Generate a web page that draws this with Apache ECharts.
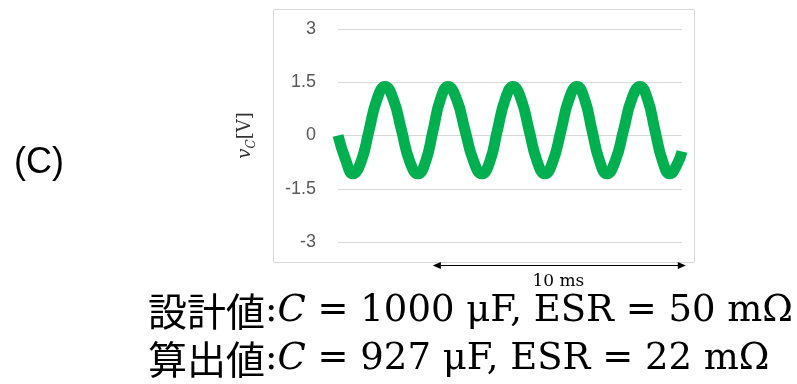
<!DOCTYPE html>
<html>
<head>
<meta charset="utf-8">
<script src="https://cdn.jsdelivr.net/npm/echarts@6/dist/echarts.min.js"></script>
<style>
  html, body { margin: 0; padding: 0; background: #fff; }
  #chart { width: 797px; height: 384px; }
</style>
</head>
<body>
<div id="chart"></div>
<script>
// 波形データ: 時間 [ms], v_C [V]
const timeMs = [
  0, 0.3, 0.59, 0.91, 1.22, 1.54, 1.86, 2.18, 2.51, 2.83,
  3.16, 3.46, 3.76, 4.05, 4.35, 4.69, 5.02, 5.36, 5.69, 6.0,
  6.3, 6.61, 6.92, 7.24, 7.55, 7.87, 8.18, 8.5, 8.82, 9.13,
  9.45, 9.75, 10.04, 10.34, 10.63, 10.96, 11.29, 11.61, 11.94, 12.24,
  12.53, 12.83, 13.12, 13.4, 13.6
];
const vC = [
  0, -0.68, -1.08, -0.74, 0.12, 1.02, 1.38, 1.03, 0.15, -0.72,
  -1.08, -0.74, 0.15, 1.02, 1.38, 1.02, 0.15, -0.72, -1.08, -0.74,
  0.14, 1.02, 1.38, 1.02, 0.16, -0.72, -1.08, -0.72, 0.15, 1.02,
  1.38, 1.02, 0.15, -0.72, -1.08, -0.72, 0.15, 1.02, 1.38, 1.02,
  0.15, -0.72, -1.08, -0.82, -0.45
];
// 縦軸の目盛
const yTicks = [-3, -1.5, 0, 1.5, 3];
// 10 ms スケールバー（時間軸上の範囲）
const scaleBarMs = [3.75, 13.75];
const scaleBarLabel = '10 ms';
const timeRange = [0, 13.6];

// 下部の注記
const designLine = ['設計値', 'C', ' = 1000 μF, ESR = 50 mΩ'];
const calcLine = ['算出値', 'C', ' = 927 μF, ESR = 22 mΩ'];

const chart = echarts.init(document.getElementById('chart'));

const mathRich = {
  j: { fontFamily: 'Noto Sans CJK JP', fontSize: 39, color: '#000' },
  c: { fontFamily: 'DejaVu Serif', fontSize: 37, color: '#000' },
  i: { fontFamily: 'DejaVu Serif', fontStyle: 'italic', fontSize: 37, color: '#000' },
  m: { fontFamily: 'DejaVu Serif', fontSize: 37, color: '#000' }
};
const noteText = (parts) => `{j|${parts[0]}}{c|:}{i|${parts[1]}}{m|${parts[2]}}`;

// 図表配置
const option = {
  animation: false,
  grid: { left: 338, right: 115, top: 29, bottom: 142 },
  xAxis: {
    type: 'value',
    min: timeRange[0],
    max: timeRange[1],
    show: false
  },
  yAxis: {
    type: 'value',
    min: yTicks[0],
    max: yTicks[yTicks.length - 1],
    interval: yTicks[1] - yTicks[0],
    axisLine: { show: false },
    axisTick: { show: false },
    splitLine: { lineStyle: { color: '#d9d9d9', width: 1 } },
    axisLabel: {
      margin: 22,
      color: '#595959',
      fontFamily: 'Liberation Sans',
      fontSize: 18
    },
    name: '{i|v}{s|C}{n|[V]}',
    nameLocation: 'middle',
    nameRotate: 90,
    nameGap: 80,
    nameTextStyle: {
      rich: {
        i: { fontFamily: 'DejaVu Serif', fontStyle: 'italic', fontSize: 18, color: '#333', lineHeight: 22, verticalAlign: 'top' },
        s: { fontFamily: 'DejaVu Serif', fontStyle: 'italic', fontSize: 12, color: '#333', lineHeight: 12, verticalAlign: 'bottom' },
        n: { fontFamily: 'DejaVu Serif', fontSize: 18, color: '#333', lineHeight: 22, verticalAlign: 'top' }
      }
    }
  },
  series: [
    {
      type: 'line',
      data: timeMs.map((t, i) => [t, vC[i]]),
      smooth: true,
      showSymbol: false,
      lineStyle: { color: '#00b050', width: 11 }
    }
  ]
};

chart.setOption(option);

// スケールバーの位置は軸から換算
const barY = -3.66;
const p1 = chart.convertToPixel({ gridIndex: 0 }, [scaleBarMs[0], barY]);
const p2 = chart.convertToPixel({ gridIndex: 0 }, [scaleBarMs[1], barY]);
const yb = Math.round(p1[1]) + 0.5;

chart.setOption({
  graphic: [
    {
      id: 'frame', type: 'rect', silent: true,
      shape: { x: 273.5, y: 9.5, width: 421, height: 253 },
      style: { fill: 'none', stroke: '#d9d9d9', lineWidth: 1 }
    },
    {
      id: 'barLine', type: 'line', silent: true,
      shape: { x1: p1[0] + 4, y1: yb, x2: p2[0] - 4, y2: yb },
      style: { stroke: '#000', lineWidth: 1 }
    },
    {
      id: 'barHeadL', type: 'polygon', silent: true,
      shape: { points: [[p1[0], yb], [p1[0] + 8, yb - 3.5], [p1[0] + 8, yb + 3.5]] },
      style: { fill: '#000' }
    },
    {
      id: 'barHeadR', type: 'polygon', silent: true,
      shape: { points: [[p2[0], yb], [p2[0] - 8, yb - 3.5], [p2[0] - 8, yb + 3.5]] },
      style: { fill: '#000' }
    },
    {
      id: 'barText', type: 'text', silent: true,
      x: (p1[0] + p2[0]) / 2 - 1, y: yb + 16,
      style: {
        text: scaleBarLabel, fontFamily: 'DejaVu Serif', fontSize: 17,
        fill: '#000', align: 'center', verticalAlign: 'middle'
      }
    },
    {
      id: 'panel', type: 'text', silent: true,
      x: 39, y: 163,
      style: {
        text: '(C)', fontFamily: 'Liberation Sans', fontSize: 36,
        fill: '#000', align: 'center', verticalAlign: 'middle'
      }
    },
    {
      id: 'note1', type: 'text', silent: true,
      x: 148, y: 311,
      style: { text: noteText(designLine), rich: mathRich, align: 'left', verticalAlign: 'middle' }
    },
    {
      id: 'note2', type: 'text', silent: true,
      x: 148, y: 359,
      style: { text: noteText(calcLine), rich: mathRich, align: 'left', verticalAlign: 'middle' }
    }
  ]
});

window.addEventListener('resize', () => {
  chart.resize();
});
</script>
</body>
</html>
